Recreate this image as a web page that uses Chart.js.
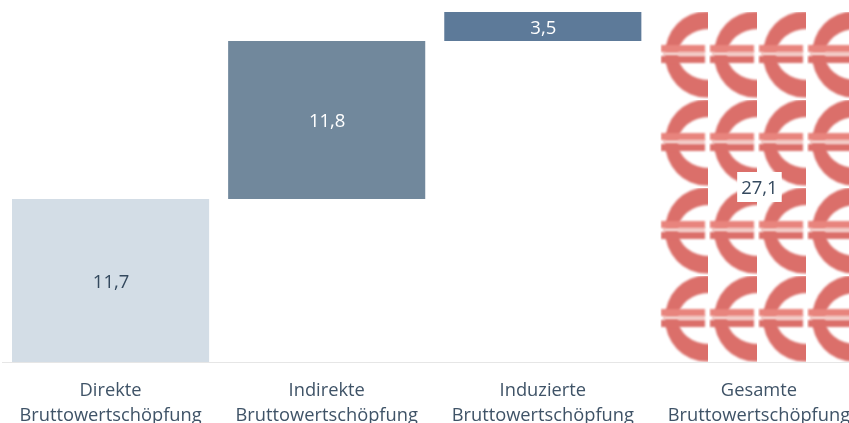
<!DOCTYPE html>
<html><head><meta charset="utf-8">
<style>html,body{margin:0;padding:0;background:#fff;overflow:hidden;width:849px;height:423px}canvas{display:block}</style>
<script src="https://cdn.jsdelivr.net/npm/chart.js@4"></script>
</head><body><canvas id="c" width="867" height="423"></canvas>
<script>
const categories = [["Direkte","Bruttowertschöpfung"],["Indirekte","Bruttowertschöpfung"],["Induzierte","Bruttowertschöpfung"],["Gesamte","Bruttowertschöpfung"]];
const barStarts = [0, 12.62, 24.85, 0];
const barEnds = [12.62, 24.85, 27.1, 27.1];
const valueLabels = ["11,7","11,8","3,5","27,1"];
const labelColors = ["#34495e","#ffffff","#ffffff","#34495e"];
const barColors = ["#d3dde6","#71889c","#5d7a99"];

function euroPattern(ctx){
  const t=document.createElement('canvas');t.width=49;t.height=88;
  const g=t.getContext('2d');
  g.save();g.beginPath();g.rect(0,0,48,87);g.clip();
  g.filter='blur(1px)';
  g.fillStyle='#db6f6a';
  g.beginPath();
  g.ellipse(46,42.5,41,43,0,0,Math.PI*2);
  g.ellipse(49,42.5,31,25.5,0,0,Math.PI*2,true);
  g.fill('evenodd');
  g.fillStyle='#f3cdc9';g.fillRect(3,39,42,5);
  g.fillStyle='#e8847d';g.fillRect(1,33,44,7);
  g.fillStyle='#db6f6a';g.fillRect(1,44,44,7);
  g.restore();
  const p=ctx.createPattern(t,'repeat');
  p.setTransform(new DOMMatrix().translate(660,12));
  return p;
}
const ctx=document.getElementById('c').getContext('2d');
const valuePlugin={id:'valueText',afterDatasetsDraw(chart){
  const c=chart.ctx,m=chart.getDatasetMeta(0);
  c.save();c.font='18.5px "Open Sans"';c.textAlign='center';c.textBaseline='middle';
  m.data.forEach((b,i)=>{
    const y=(b.y+b.base)/2,txt=valueLabels[i];
    if(i===3){
      const w=c.measureText(txt).width+8;
      c.fillStyle='#fff';c.fillRect(b.x-w/2+0.5,y-15,w,30);
    }
    c.fillStyle=labelColors[i];c.fillText(txt,b.x+0.5,y+2);
  });
  c.restore();
}};
new Chart(ctx,{type:'bar',
 data:{labels:categories,datasets:[{
   data:barStarts.map((s,i)=>[s,barEnds[i]]),
   backgroundColor:[barColors[0],barColors[1],barColors[2],euroPattern(ctx)],
   categoryPercentage:1,barPercentage:0.912,borderWidth:0,borderSkipped:false}]},
 options:{responsive:false,animation:false,
  layout:{padding:{left:2.5,right:0,top:12,bottom:0}},
  plugins:{legend:{display:false},tooltip:{enabled:false}},
  scales:{
   y:{display:false,min:0,max:27.1},
   x:{afterFit(s){s.height=61},
      grid:{display:false,drawTicks:false},border:{display:true,color:'#e6e6e6',width:1},
      ticks:{color:'#3f5367',font:{family:'"Open Sans"',size:18.3,lineHeight:1.37},padding:16,maxRotation:0,autoSkip:false}}
  }},
 plugins:[valuePlugin]});
</script></body></html>
